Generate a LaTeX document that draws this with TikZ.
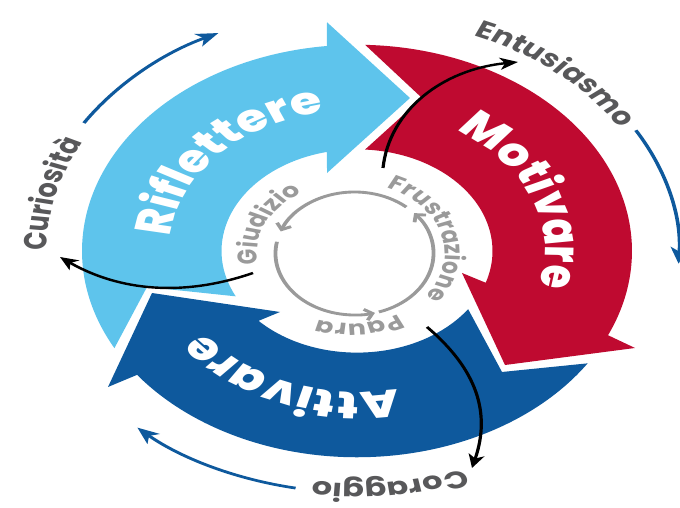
\documentclass[tikz,border=0pt]{standalone}
\usepackage{fontspec}
\setmainfont{Poppins}
\newfontfamily\popsb{Poppins SemiBold}
\newfontfamily\popb{Poppins Bold}
\newfontfamily\popxb{Poppins ExtraBold}
\usetikzlibrary{decorations.text,arrows.meta}
\definecolor{lblue}{HTML}{5EC4EC}
\definecolor{cred}{HTML}{BF0A30}
\definecolor{dblue}{HTML}{0E599D}
\definecolor{tgray}{HTML}{58585A}
\definecolor{cgray}{HTML}{9A9A9A}
\tikzset{
  bigtext/.style={decorate, decoration={text along path, text align=center, text={|\popxb\fontsize{51}{51}\selectfont\color{white}|#1}}},
  outtext/.style={decorate, decoration={text along path, text align=center, text={|\popb\fontsize{32}{32}\selectfont\color{tgray}|#1}}},
  intext/.style={decorate, decoration={text along path, text align=center, text={|\popb\fontsize{27}{27}\selectfont\color{cgray}|#1}}},
  bluearc/.style={draw=dblue, line width=3.6pt, -{Stealth[length=22pt,width=18pt,inset=6pt]}},
  blkarrow/.style={draw=black, line width=3.2pt, -{Stealth[length=18pt,width=16pt,inset=5pt]}},
  grayarc/.style={draw=cgray, line width=3.8pt, -{Straight Barb[length=7pt,width=15pt]}}
}
\begin{document}
\begin{tikzpicture}[x=1pt,y=-1pt]
\useasboundingbox (0,0) rectangle (680,507);
\begin{scope}[transform canvas={shift={(357pt,-251pt)}, yscale=0.75}]
% Riflettere
\fill[lblue] (151.9:275) arc[start angle=151.9, end angle=263.7, radius=275]
  -- (-30,-305) -- (53,-204) -- (-30,-104) -- (257.2:135.5)
  arc[start angle=257.2, end angle=153.5, radius=135.5] -- (-210,48) -- cycle;
% Motivare
\fill[cred] (271.7:275) arc[start angle=271.7, end angle=384.1, radius=275]
  -- (278,129.3) -- (148,152) -- (105,29.3) -- (18.2:135.5)
  arc[start angle=378.2, end angle=273.4, radius=135.5] -- (65,-204) -- cycle;
% Attivare
\fill[dblue] (33:275) arc[start angle=33, end angle=143.1, radius=275]
  -- (-249,181.3) -- (-205,56) -- (-77,81.3) -- (136.6:135.5)
  arc[start angle=136.6, end angle=34.9, radius=135.5] -- (145,161.3) -- cycle;
% big texts
\path[bigtext=Riflettere] (143:188) arc[start angle=143, end angle=303, radius=188];
\path[bigtext=Motivare] (268:188) arc[start angle=268, end angle=408, radius=188];
\path[bigtext=Attivare] (41:188) arc[start angle=41, end angle=181, radius=188];
% inner gray cycle
\begin{scope}[shift={(-2.5,3.3)}]
\draw[grayarc] (191:79 and 82) arc[start angle=191, end angle=75, x radius=79, y radius=82];
\draw[grayarc] (72:79 and 82) arc[start angle=72, end angle=-41, x radius=79, y radius=82];
\draw[grayarc] (311:79 and 82) arc[start angle=311, end angle=201, x radius=79, y radius=82];
\end{scope}
% inner labels
\begin{scope}[shift={(-6,3)}]
\path[intext=Frustrazione] (265:94) arc[start angle=265, end angle=425, radius=94];
\path[intext=Giudizio] (135:94) arc[start angle=135, end angle=275, radius=94];
\path[intext=Paura] (40:94) arc[start angle=40, end angle=130, radius=94];
\end{scope}
% outer labels
\path[outtext=Curiosità] (154:310) arc[start angle=154, end angle=234, radius=310];
\path[outtext=Entusiasmo] (270:310) arc[start angle=270, end angle=350, radius=310];
\path[outtext=Coraggio] (44:310) arc[start angle=44, end angle=124, radius=310];
% outer blue arcs
\draw[bluearc] (212:322) arc[start angle=212, end angle=244.5, radius=322];
\draw[bluearc] (330:322) arc[start angle=330, end angle=363, radius=322];
\draw[bluearc] (101:322) arc[start angle=101, end angle=133, radius=322];
% black arrows
\coordinate (fs) at (26,-110.7);
\coordinate (fe) at (161,-252);
\coordinate (gs) at (-104,29.3);
\coordinate (ge) at (-297,8);
\coordinate (ps) at (70,101.3);
\coordinate (pe) at (115,289.3);
\draw[blkarrow] (fs) to[bend left=39] (fe);
\draw[blkarrow] (gs) to[bend left=31] (ge);
\draw[blkarrow] (ps) to[bend left=28] (pe);
\end{scope}
\end{tikzpicture}
\end{document}
